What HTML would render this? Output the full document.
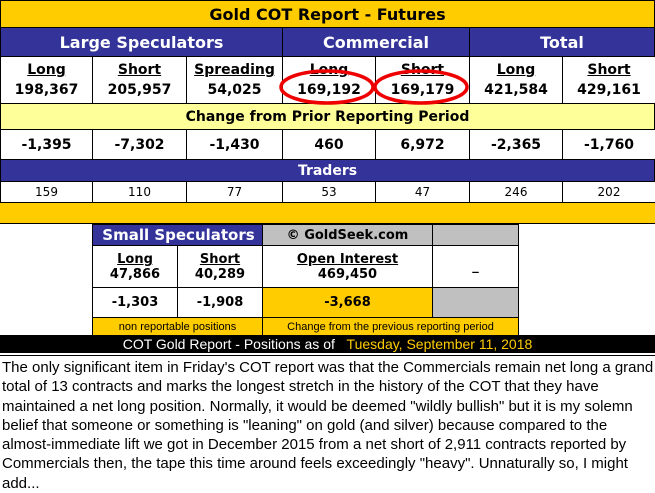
<!DOCTYPE html>
<html><head><meta charset="utf-8"><style>
body{margin:0;width:655px;height:492px;background:#fff;position:relative;overflow:hidden;font-family:Verdana,"DejaVu Sans",sans-serif}
.c{position:absolute;box-sizing:border-box;display:flex;align-items:center;justify-content:center;text-align:center;color:#000;font-weight:bold;white-space:nowrap}
.y{background:#ffcc00}.b{background:#333399;color:#fff}.ly{background:#ffff99}.g{background:#c0c0c0}.w{background:#fff}
.bd{border:1px solid #000}
u{text-decoration:underline}
.p{position:absolute;left:2px;top:358px;width:652px;font-family:"Liberation Sans",sans-serif;font-size:15px;line-height:19.3px;color:#000}
</style></head><body>
<div class="c y bd" style="left:0;top:0;width:655px;height:28px;font-size:16px">Gold COT Report - Futures</div>
<div class="c b bd" style="left:0;top:27px;width:283px;height:30px;font-size:16px">Large Speculators</div>
<div class="c b bd" style="left:282px;top:27px;width:188px;height:30px;font-size:16px">Commercial</div>
<div class="c b bd" style="left:469px;top:27px;width:186px;height:30px;font-size:16px">Total</div>
<div class="c ly bd" style="left:0;top:103px;width:655px;height:27px;font-size:14px">Change from Prior Reporting Period</div>
<div class="c b bd" style="left:0;top:159px;width:655px;height:23px;font-size:14px">Traders</div>
<div class="c y" style="left:0;top:202px;width:655px;height:22px;border-top:1px solid #000;border-bottom:1px solid #000"></div>
<div class="c b bd" style="left:92px;top:224px;width:171px;height:22px;font-size:15px;padding-left:2px">Small Speculators</div>
<div class="c g bd" style="left:262px;top:224px;width:171px;height:22px;font-size:13px">© GoldSeek.com</div>
<div class="c g bd" style="left:432px;top:224px;width:87px;height:22px"></div>
<div class="c w bd" style="left:92px;top:245px;width:86px;height:43px;font-size:13px;flex-direction:column"><u>Long</u>47,866</div>
<div class="c w bd" style="left:177px;top:245px;width:86px;height:43px;font-size:13px;flex-direction:column"><u>Short</u>40,289</div>
<div class="c w bd" style="left:262px;top:245px;width:171px;height:43px;font-size:13px;flex-direction:column"><u>Open Interest</u>469,450</div>
<div class="c w bd" style="left:432px;top:245px;width:87px;height:43px;font-size:13px">_</div>
<div class="c w bd" style="left:92px;top:287px;width:86px;height:31px;font-size:13px">-1,303</div>
<div class="c w bd" style="left:177px;top:287px;width:86px;height:31px;font-size:13px">-1,908</div>
<div class="c y bd" style="left:262px;top:287px;width:171px;height:31px;font-size:13px">-3,668</div>
<div class="c g bd" style="left:432px;top:287px;width:87px;height:31px"></div>
<div class="c y bd" style="left:92px;top:317px;width:171px;height:19px;font-size:11px;font-weight:normal;font-family:'Liberation Sans Narrow','Liberation Sans',sans-serif">non reportable positions</div>
<div class="c y bd" style="left:262px;top:317px;width:257px;height:19px;font-size:11px;font-weight:normal;font-family:'Liberation Sans Narrow','Liberation Sans',sans-serif">Change from the previous reporting period</div>
<div class="c" style="left:0;top:335px;width:655px;height:18px;background:#000;color:#fff;font-weight:normal;font-size:14px;font-family:'Liberation Sans',sans-serif">COT Gold Report - Positions as of&nbsp;&nbsp;&nbsp;<span style="color:#ffcc00">Tuesday, September 11, 2018</span></div>
<div style="position:absolute;left:0;top:355px;width:655px;height:1px;background:#000"></div>
<svg style="position:absolute;left:0;top:0" width="655" height="120">
<ellipse cx="327" cy="87" rx="46" ry="16" fill="none" stroke="#e00" stroke-width="3.5"/>
<ellipse cx="421" cy="87" rx="46" ry="16" fill="none" stroke="#e00" stroke-width="3.5"/>
</svg>
<div class="p">The only significant item in Friday's COT report was that the Commercials remain net long a grand total of 13 contracts and marks the longest stretch in the history of the COT that they have maintained a net long position. Normally, it would be deemed "wildly bullish" but it is my solemn belief that someone or something is "leaning" on gold (and silver) because compared to the almost-immediate lift we got in December 2015 from a net short of 2,911 contracts reported by Commercials then, the tape this time around feels exceedingly "heavy". Unnaturally so, I might add...</div>
<script>
const xs=[0,92,186,282,375,469,562,655];
const labels=["Long","Short","Spreading","Long","Short","Long","Short"];
const positions=["198,367","205,957","54,025","169,192","169,179","421,584","429,161"];
const changes=["-1,395","-7,302","-1,430","460","6,972","-2,365","-1,760"];
const traders=["159","110","77","53","47","246","202"];
function cell(i,top,h,html,fs,name,bold){
 const d=document.createElement('div');
 d.className='c w bd';
 d.style.cssText=`left:${xs[i]}px;top:${top}px;width:${xs[i+1]-xs[i]+1}px;height:${h}px;font-size:${fs}px;flex-direction:column;line-height:20px;${bold?'':'font-weight:normal'}`;
 d.innerHTML=html;
 
 
 document.body.insertBefore(d,document.querySelector('svg'));
}
for(let i=0;i<7;i++){
 cell(i,56,48,`<u>${labels[i]}</u>${positions[i]}`,14,'position-cell',true);
 cell(i,129,31,changes[i],14,'change-cell',true);
 cell(i,181,22,traders[i],12,'traders-cell',false);
}
</script>
</body></html>
